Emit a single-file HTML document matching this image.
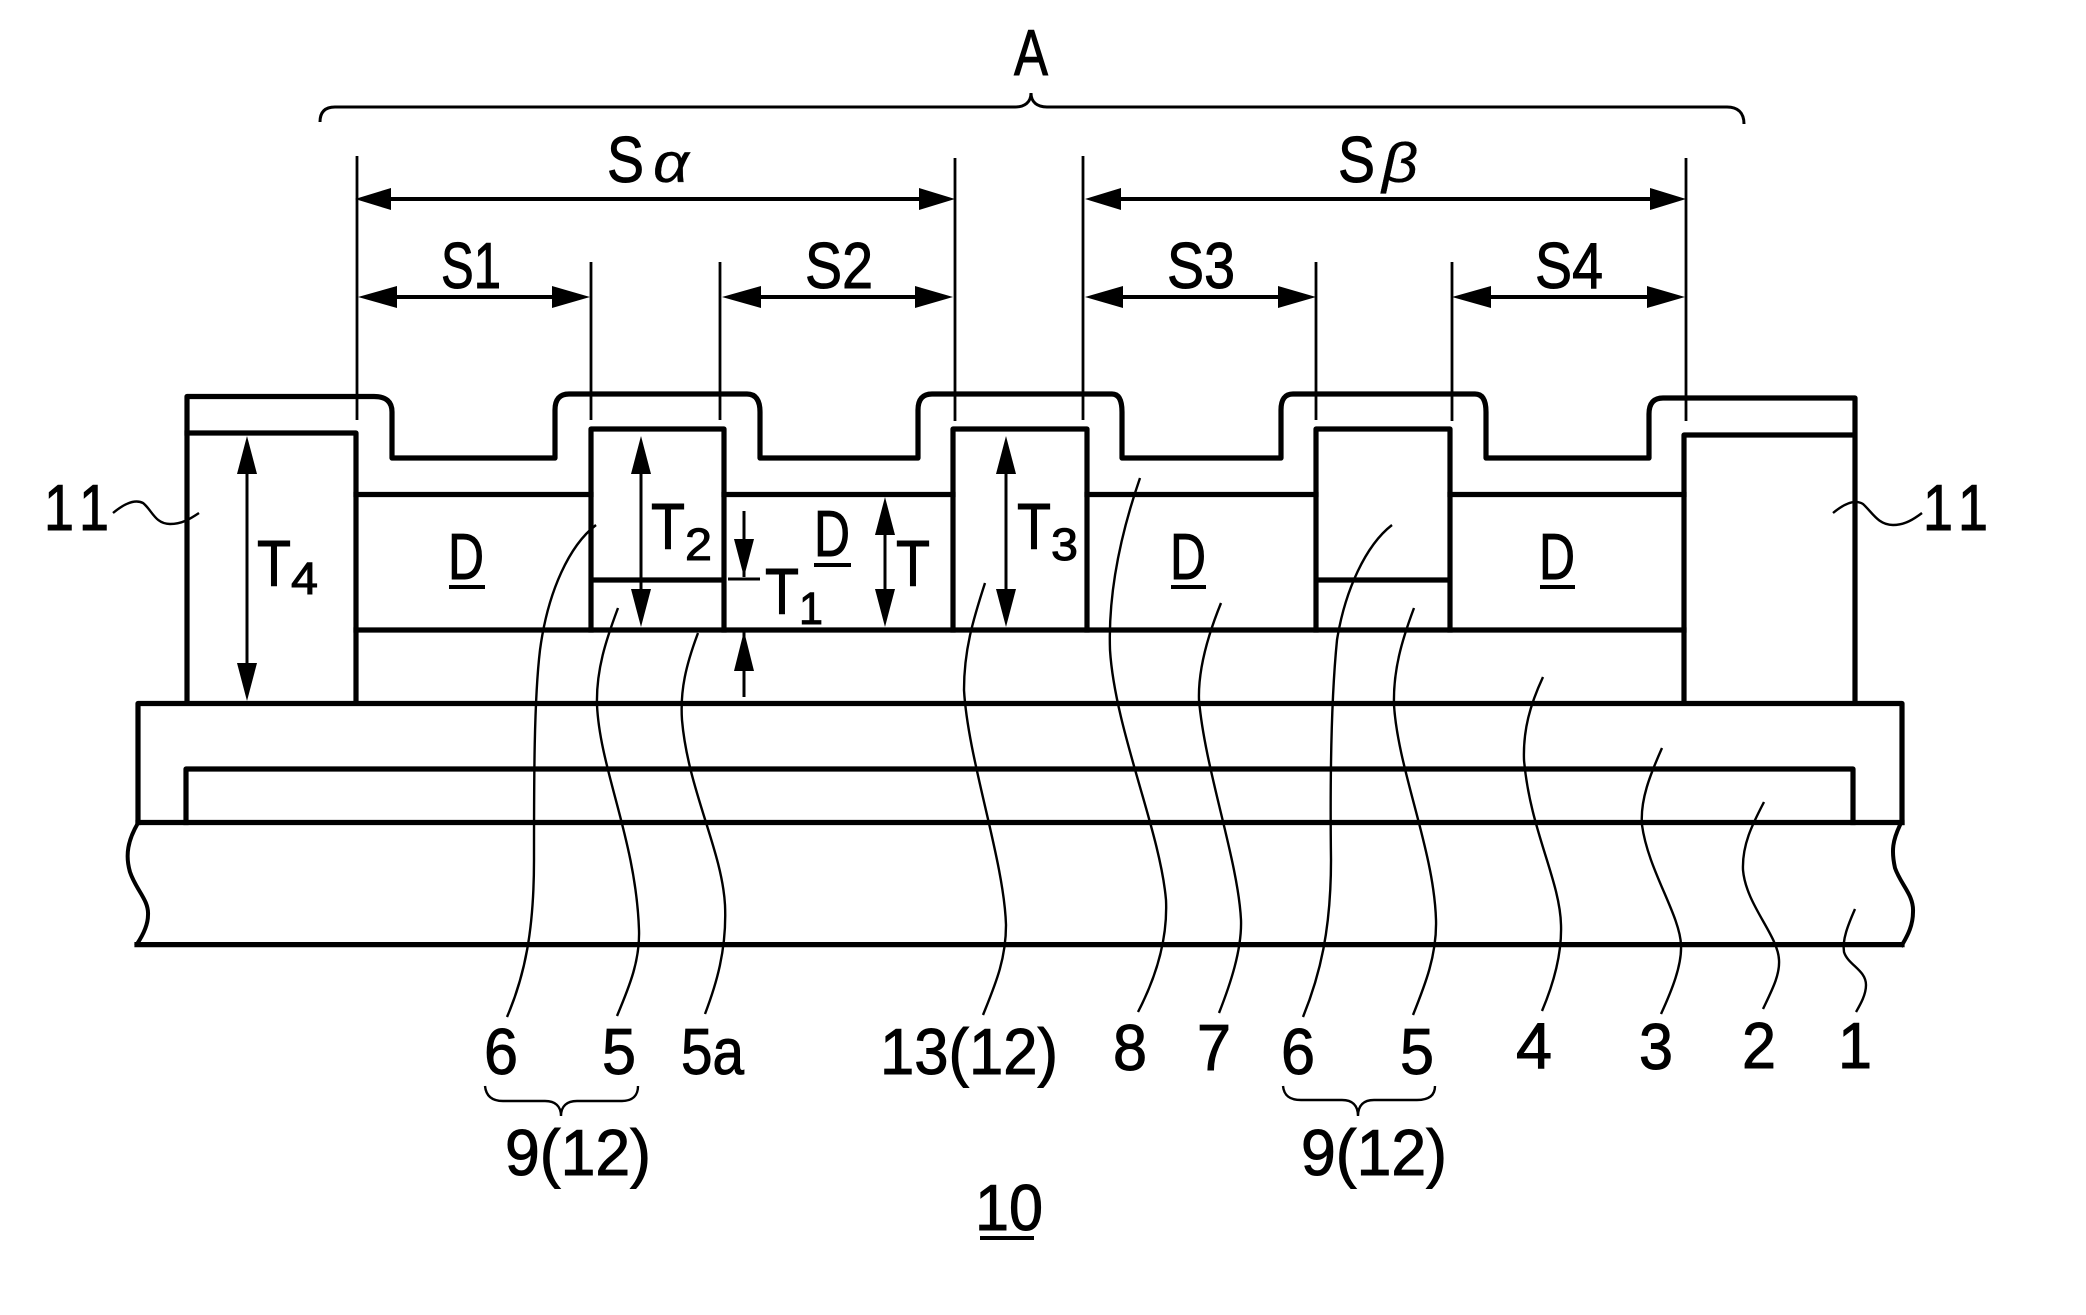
<!DOCTYPE html>
<html><head><meta charset="utf-8"><style>
html,body{margin:0;padding:0;background:#fff}
svg{display:block}
text{font-family:"Liberation Sans",sans-serif;font-size:65px;fill:#000;stroke:#000;stroke-width:1}
.s{font-size:45px}
.g{font-size:56px;font-style:italic;stroke-width:.3}
.m{fill:none;stroke:#000;stroke-width:5.2;stroke-linejoin:round;stroke-linecap:square}
.v{stroke:#000;stroke-width:2.8;fill:none}
.a{stroke:#000;stroke-width:4;fill:none}
.l{stroke:#000;stroke-width:2.4;fill:none}
.u{stroke:#000;stroke-width:4}
</style></head><body>
<svg xmlns="http://www.w3.org/2000/svg" width="2086" height="1315" viewBox="0 0 2086 1315">
<rect width="2086" height="1315" fill="#fff"/>

<!-- top brace -->
<path class="l" style="stroke-width:3" d="M320 122 C320 112 325 107 335 107 L1015 107 C1025 107 1031 102 1031 93 C1031 102 1037 107 1047 107 L1727 107 C1737 107 1744 112 1744 124"/>

<!-- vertical extension lines -->
<path class="v" d="M357 156V420M955 158V421M1083 156V420M591 262V420M720 262V420M1316 262V420M1452 262V421M1686 158V421"/>

<!-- horizontal dimension arrows -->
<path class="a" d="M385 199H925M1115 199H1656M390 297H560M752 297H923M1115 297H1286M1482 297H1655"/>
<g fill="#000">
<polygon points="355,199 391,188 391,210"/><polygon points="955,199 919,188 919,210"/>
<polygon points="1085,199 1121,188 1121,210"/><polygon points="1686,199 1650,188 1650,210"/>
<polygon points="358,297 397,286 397,308"/><polygon points="590,297 552,286 552,308"/>
<polygon points="722,297 761,286 761,308"/><polygon points="953,297 915,286 915,308"/>
<polygon points="1085,297 1123,286 1123,308"/><polygon points="1316,297 1278,286 1278,308"/>
<polygon points="1452,297 1491,286 1491,308"/><polygon points="1685,297 1647,286 1647,308"/>
</g>

<!-- film 8 outline -->
<path class="m" d="M187 703V396.5H374Q392 396.5 392 412V458H555V410Q555 394 569 394H747Q760 394 760 412V458H918V410Q918 394 932 394H1112Q1122 394 1122 412V458H1281V410Q1281 394 1293 394H1475Q1486 394 1486 412V458H1649V414Q1649 398 1663 398H1855V703"/>

<!-- columns -->
<path class="m" d="M187 433H356V703"/>
<path class="m" d="M591 630V429H724V630M591 580H724"/>
<path class="m" d="M953 630V429H1087V630"/>
<path class="m" d="M1316 630V429H1450V630M1316 580H1450"/>
<path class="m" d="M1684 703V435H1853"/>
<path class="m" d="M356 494.5H591M724 494.5H953M1087 494.5H1316M1450 494.5H1684"/>
<path class="m" d="M356 630H1684"/>

<!-- lower layers -->
<path class="m" d="M138 822.5V703.5H1902V822.5"/>
<path class="m" d="M186 822.5V769H1853V822.5"/>
<path class="m" d="M138 822.5H1902"/>
<path class="m" d="M137 944.6H1902"/>
<path class="m" style="stroke-width:4" d="M138 823C128 840 125 855 130 872C136 890 149 900 148 915C148 925 143 935 137 944"/>
<path class="m" style="stroke-width:4" d="M1900 825C1893 840 1891 850 1895 868C1901 885 1914 895 1913 912C1913 925 1908 935 1902 945"/>

<!-- vertical dimension arrows -->
<path class="a" style="stroke-width:3" d="M247 470V670M641 470V595M1006 470V595M885 530V595"/>
<g fill="#000">
<polygon points="247,436 237,474 257,474"/><polygon points="247,701 237,663 257,663"/>
<polygon points="641,436 631,474 651,474"/><polygon points="641,627 631,589 651,589"/>
<polygon points="1006,436 996,474 1016,474"/><polygon points="1006,627 996,589 1016,589"/>
<polygon points="885,497 875,535 895,535"/><polygon points="885,627 875,589 895,589"/>
<polygon points="744,577 734,539 754,539"/><polygon points="744,631 734,671 754,671"/>
</g>
<path class="a" style="stroke-width:3" d="M744 511V577M744 631V697M728 579H760"/>

<!-- leader curves -->
<path class="l" d="M596 525C570 545 548 590 540 650C534 700 534 780 534 860C534 930 525 975 507 1017"/>
<path class="l" d="M618 608C606 640 596 670 597 705C600 770 636 840 639 930C640 960 630 985 617 1016"/>
<path class="l" d="M698 633C686 665 680 690 682 720C688 790 722 850 725 905C727 950 716 985 705 1014"/>
<path class="l" d="M985 583C973 620 964 650 964 690C968 760 1004 860 1006 925C1006 960 995 985 983 1015"/>
<path class="l" d="M1140 478C1122 530 1108 590 1110 650C1115 730 1160 830 1166 900C1168 945 1152 985 1138 1012"/>
<path class="l" d="M1221 603C1208 635 1198 670 1199 700C1205 770 1238 860 1241 920C1242 950 1230 985 1219 1013"/>
<path class="l" d="M1392 525C1366 545 1345 590 1337 640C1331 700 1330 780 1331 860C1331 930 1320 975 1303 1017"/>
<path class="l" d="M1414 608C1402 640 1393 670 1394 705C1398 770 1434 850 1436 920C1437 955 1425 985 1413 1015"/>
<path class="l" d="M1543 677C1530 705 1523 730 1524 760C1530 830 1560 880 1561 925C1562 955 1553 985 1542 1011"/>
<path class="l" d="M1662 748C1650 775 1640 800 1642 825C1648 870 1680 915 1681 945C1682 965 1672 990 1661 1014"/>
<path class="l" d="M1764 802C1752 825 1742 845 1743 870C1746 905 1778 935 1779 960C1780 975 1772 990 1763 1009"/>
<path class="l" d="M1855 909C1848 925 1842 940 1844 952C1848 965 1866 970 1866 985C1866 995 1860 1005 1856 1012"/>

<!-- 11 tildes -->
<path class="l" d="M113 513C125 503 135 499 143 503C152 510 155 524 170 524C182 524 190 519 199 513"/>
<path class="l" d="M1833 513C1845 503 1855 499 1863 504C1872 512 1878 525 1893 525C1905 525 1914 519 1922 513"/>

<!-- small braces -->
<path class="l" d="M485 1086C486 1096 492 1101 503 1101H545C555 1101 561 1106 561 1116C561 1106 567 1101 577 1101H622C632 1101 638 1096 638 1086"/>
<path class="l" d="M1283 1086C1284 1096 1290 1100 1301 1100H1342C1352 1100 1358 1105 1358 1116C1358 1105 1364 1100 1374 1100H1417C1428 1100 1435 1096 1435 1086"/>

<!-- labels -->
<text x="1014" y="75" textLength="34" lengthAdjust="spacingAndGlyphs">A</text>
<text x="607" y="182" textLength="37" lengthAdjust="spacingAndGlyphs">S</text>
<text class="g" x="653" y="182" textLength="36" lengthAdjust="spacingAndGlyphs">α</text>
<text x="1338" y="182" textLength="37" lengthAdjust="spacingAndGlyphs">S</text>
<text class="g" x="1382" y="182" textLength="36" lengthAdjust="spacingAndGlyphs">β</text>
<text x="441" y="288" textLength="60" lengthAdjust="spacingAndGlyphs">S1</text>
<text x="805" y="288" textLength="68" lengthAdjust="spacingAndGlyphs">S2</text>
<text x="1167" y="288" textLength="68" lengthAdjust="spacingAndGlyphs">S3</text>
<text x="1535" y="288" textLength="68" lengthAdjust="spacingAndGlyphs">S4</text>

<text x="448" y="579" textLength="36" lengthAdjust="spacingAndGlyphs">D</text>
<text x="814" y="556" textLength="36" lengthAdjust="spacingAndGlyphs">D</text>
<text x="1170" y="579" textLength="36" lengthAdjust="spacingAndGlyphs">D</text>
<text x="1539" y="579" textLength="36" lengthAdjust="spacingAndGlyphs">D</text>
<path class="u" d="M449 587H485M814 565H851M1171 587H1206M1540 587H1575M980 1238H1034"/>

<text x="257" y="586" textLength="34" lengthAdjust="spacingAndGlyphs">T</text>
<text class="s" x="291" y="594" textLength="27" lengthAdjust="spacingAndGlyphs">4</text>
<text x="651" y="549" textLength="34" lengthAdjust="spacingAndGlyphs">T</text>
<text class="s" x="685" y="560" textLength="27" lengthAdjust="spacingAndGlyphs">2</text>
<text x="765" y="614" textLength="34" lengthAdjust="spacingAndGlyphs">T</text>
<text class="s" x="799" y="624" textLength="24" lengthAdjust="spacingAndGlyphs">1</text>
<text x="896" y="586" textLength="34" lengthAdjust="spacingAndGlyphs">T</text>
<text x="1017" y="549" textLength="34" lengthAdjust="spacingAndGlyphs">T</text>
<text class="s" x="1051" y="560" textLength="27" lengthAdjust="spacingAndGlyphs">3</text>

<text x="44" y="530" textLength="30" lengthAdjust="spacingAndGlyphs">1</text>
<text x="79" y="530" textLength="30" lengthAdjust="spacingAndGlyphs">1</text>
<text x="1923" y="530" textLength="30" lengthAdjust="spacingAndGlyphs">1</text>
<text x="1958" y="530" textLength="30" lengthAdjust="spacingAndGlyphs">1</text>

<text x="484" y="1074" textLength="34" lengthAdjust="spacingAndGlyphs">6</text>
<text x="602" y="1074" textLength="34" lengthAdjust="spacingAndGlyphs">5</text>
<text x="681" y="1074" textLength="63" lengthAdjust="spacingAndGlyphs">5a</text>
<text x="880" y="1074" textLength="178" lengthAdjust="spacingAndGlyphs">13(12)</text>
<text x="1113" y="1070" textLength="34" lengthAdjust="spacingAndGlyphs">8</text>
<text x="1197" y="1070" textLength="34" lengthAdjust="spacingAndGlyphs">7</text>
<text x="1281" y="1074" textLength="34" lengthAdjust="spacingAndGlyphs">6</text>
<text x="1400" y="1074" textLength="34" lengthAdjust="spacingAndGlyphs">5</text>
<text x="1516" y="1068" textLength="36" lengthAdjust="spacingAndGlyphs">4</text>
<text x="1639" y="1069" textLength="34" lengthAdjust="spacingAndGlyphs">3</text>
<text x="1742" y="1068" textLength="34" lengthAdjust="spacingAndGlyphs">2</text>
<text x="1838" y="1068" textLength="34" lengthAdjust="spacingAndGlyphs">1</text>
<text x="505" y="1175" textLength="146" lengthAdjust="spacingAndGlyphs">9(12)</text>
<text x="1301" y="1175" textLength="146" lengthAdjust="spacingAndGlyphs">9(12)</text>
<text x="975" y="1230" textLength="68" lengthAdjust="spacingAndGlyphs">10</text>
</svg>
</body></html>
